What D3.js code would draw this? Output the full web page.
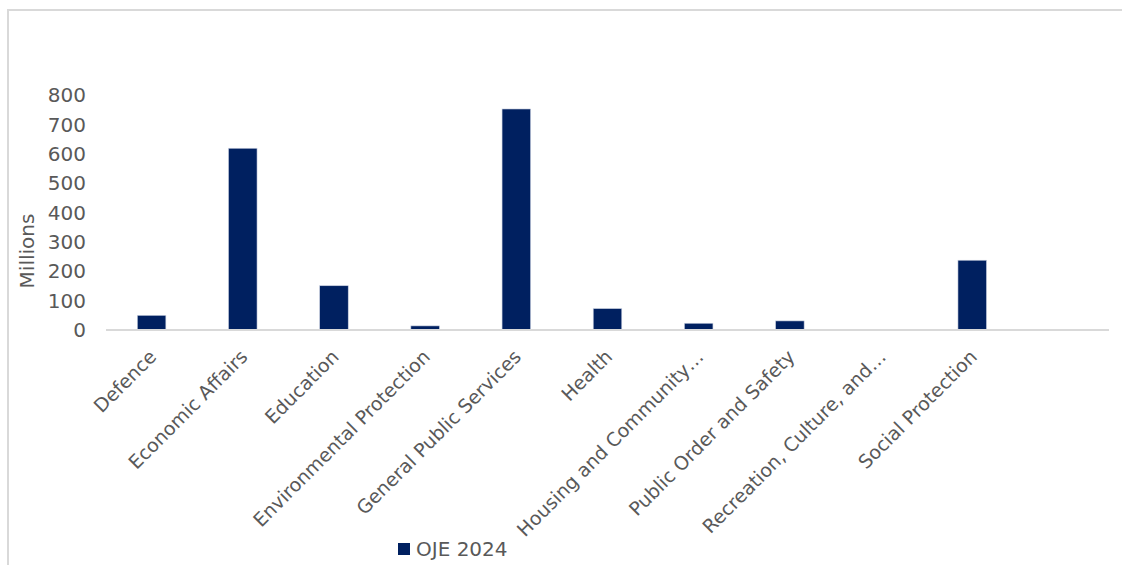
<!DOCTYPE html>
<html>
<head>
<meta charset="utf-8">
<script src="https://cdn.jsdelivr.net/npm/d3@7"></script>
<style>
  body { margin: 0; background: #fff; }
  text { font-family: "DejaVu Sans", sans-serif; fill: #595959; }
</style>
</head>
<body>
<svg id="chart" width="1122" height="565"></svg>
<script>
const categories = [
  "Defence", "Economic Affairs", "Education", "Environmental Protection",
  "General Public Services", "Health", "Housing and Community…",
  "Public Order and Safety", "Recreation, Culture, and…", "Social Protection", ""
];
const values = [50, 620, 151, 14, 754, 73, 23, 31, 0, 238, null];
const yTicks = [0, 100, 200, 300, 400, 500, 600, 700, 800];
const seriesName = "OJE 2024";

const svg = d3.select("#chart");

// chart frame
svg.append("path")
  .attr("d", "M8,565 L8,10 L1122,10")
  .attr("fill", "none")
  .attr("stroke", "#d9d9d9")
  .attr("stroke-width", 2);

const x = d3.scaleBand()
  .domain(categories.map((c, i) => i))
  .range([106, 1109])
  .paddingInner(0.687)
  .paddingOuter(0.3435);

const y = d3.scaleLinear()
  .domain([0, 800])
  .range([330, 95.5]);

// y tick labels
const yAxis = svg.append("g")
  .attr("transform", "translate(86,0)")
  .call(d3.axisLeft(y).tickValues(yTicks).tickSize(0).tickPadding(0));
yAxis.select(".domain").remove();
yAxis.selectAll("text")
  .style("font-family", "DejaVu Sans")
  .style("font-size", "20px")
  .attr("fill", "#595959");

svg.append("text")
  .attr("transform", "translate(34,251) rotate(-90)")
  .attr("text-anchor", "middle")
  .style("font-size", "20px")
  .text("Millions");

// bars
svg.append("g")
  .selectAll("rect")
  .data(values.map((v, i) => ({ i, v })).filter(d => d.v))
  .join("rect")
  .attr("x", d => x(d.i))
  .attr("width", x.bandwidth())
  .attr("y", d => y(d.v))
  .attr("height", d => y(0) - y(d.v))
  .attr("fill", "#002060")
  .attr("stroke", "#c9d0e0")
  .attr("stroke-width", 0.6);

// x axis line
svg.append("line")
  .attr("x1", x.range()[0]).attr("x2", x.range()[1])
  .attr("y1", y(0)).attr("y2", y(0))
  .attr("stroke", "#d9d9d9")
  .attr("stroke-width", 2);

// category labels
svg.append("g")
  .selectAll("text")
  .data(categories)
  .join("text")
  .attr("transform", (d, i) => `translate(${x(i) + x.bandwidth() / 2 + 2},${354}) rotate(-45)`)
  .attr("text-anchor", "end")
  .attr("dy", "0.3em")
  .style("font-size", "19px")
  .text(d => d);

// legend
const legend = svg.append("g").attr("transform", "translate(398,543)");
legend.append("rect")
  .attr("width", 12).attr("height", 12)
  .attr("fill", "#002060");
legend.append("text")
  .attr("x", 18).attr("y", 6)
  .attr("dy", "0.35em")
  .style("font-size", "20px")
  .text(seriesName);
</script>
</body>
</html>
